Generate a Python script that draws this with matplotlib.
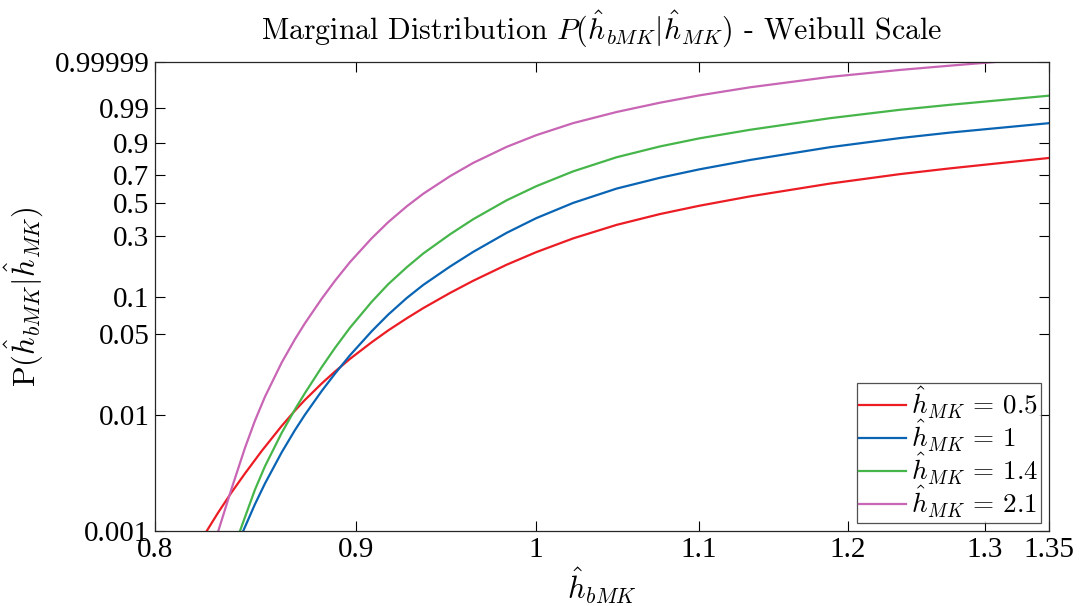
#!/usr/bin/env python3
# Marginal distribution on a Weibull probability scale (log x, log(-log(1-p)) y).

import numpy as np
import matplotlib as mpl
mpl.use('agg')
import matplotlib.pyplot as plt
from matplotlib.ticker import FixedLocator, FixedFormatter, NullLocator

plt.rcParams['font.family'] = ['Liberation Serif', 'DejaVu Serif']
plt.rcParams['mathtext.fontset'] = 'cm'

# Values.

x_red = [0.8246, 0.8302, 0.8366, 0.8433, 0.8516, 0.8616, 0.8683, 0.8734, 0.8820,
         0.8889, 0.8967, 0.9082, 0.9170, 0.9270, 0.9360, 0.9508, 0.9638, 0.9828,
         1.0, 1.0219, 1.0482, 1.0751, 1.1001, 1.1333, 1.1876, 1.2372, 1.2740,
         1.3507]
p_red = [0.001, 0.001449, 0.002149, 0.003150, 0.004928, 0.008098, 0.010969,
         0.013559, 0.018752, 0.02376, 0.030437, 0.042203, 0.053091, 0.067076,
         0.081565, 0.108810, 0.136623, 0.182966, 0.228806, 0.289656, 0.360892,
         0.426021, 0.480575, 0.546165, 0.639272, 0.707992, 0.748535, 0.817661]

x_blue = [0.8424, 0.8482, 0.8532, 0.8616, 0.8683, 0.8734, 0.8820, 0.8889, 0.8967,
          0.9082, 0.9170, 0.9270, 0.9360, 0.9508, 0.9638, 0.9828, 1.0, 1.0219,
          1.0482, 1.0751, 1.1001, 1.1333, 1.1876, 1.2372, 1.2740, 1.3507]
p_blue = [0.001, 0.001703, 0.002576, 0.004792, 0.007450, 0.010113, 0.01617,
          0.022796, 0.032664, 0.052273, 0.072021, 0.09884, 0.126375, 0.177138,
          0.229965, 0.317273, 0.400462, 0.500440, 0.602639, 0.681649, 0.7416,
          0.804475, 0.878302, 0.919961, 0.94026, 0.9668]

x_green = [0.8408, 0.8482, 0.8532, 0.8616, 0.8683, 0.8734, 0.8820, 0.8889, 0.8967,
           0.9082, 0.9170, 0.9270, 0.9360, 0.9508, 0.9638, 0.9828, 1.0, 1.0219,
           1.0482, 1.0751, 1.1001, 1.1333, 1.1876, 1.2372, 1.2740, 1.3507]
p_green = [0.001, 0.002275, 0.003631, 0.007054, 0.011222, 0.015527, 0.025882,
           0.037793, 0.055889, 0.092054, 0.128153, 0.174757, 0.223439, 0.309814,
           0.394078, 0.518191, 0.619845, 0.727912, 0.821662, 0.882103, 0.918747,
           0.949188, 0.976598, 0.988196, 0.992586, 0.997236]

x_mag = [0.8302, 0.8364, 0.8433, 0.8482, 0.8532, 0.8616, 0.8683, 0.8734, 0.8820,
         0.8889, 0.8967, 0.9082, 0.9170, 0.9270, 0.9360, 0.9508, 0.9638, 0.9828,
         1.0, 1.0219, 1.0482, 1.0751, 1.1001, 1.1333, 1.1876, 1.2372, 1.2740,
         1.3080]
p_mag = [0.001, 0.002245, 0.005251, 0.008978, 0.014446, 0.028360, 0.044744,
         0.061028, 0.097526, 0.136623, 0.191706, 0.290161, 0.376492, 0.476519,
         0.564840, 0.693240, 0.785710, 0.879829, 0.931132, 0.9668, 0.985729,
         0.993986, 0.997301, 0.999042, 0.999807, 0.999946, 0.9999775, 0.99999]

labels = [r'$\hat{h}_{MK}\,=\,0.5$', r'$\hat{h}_{MK}\,=\,1$',
          r'$\hat{h}_{MK}\,=\,1.4$', r'$\hat{h}_{MK}\,=\,2.1$']

xticks = [0.8, 0.9, 1.0, 1.1, 1.2, 1.3, 1.35]
xticklabels = ['0.8', '0.9', '1', '1.1', '1.2', '1.3', '1.35']
yticks = [0.001, 0.01, 0.05, 0.1, 0.3, 0.5, 0.7, 0.9, 0.99, 0.99999]
yticklabels = ['0.001', '0.01', '0.05', '0.1', '0.3', '0.5', '0.7', '0.9',
               '0.99', '0.99999']


def wbl_fwd(p):
    p = np.clip(np.asarray(p, dtype=float), 1e-12, 1 - 1e-12)
    return np.log(-np.log(1 - p))


def wbl_inv(t):
    return 1 - np.exp(-np.exp(np.asarray(t, dtype=float)))


fig = plt.figure(figsize=(10.83, 6.06), dpi=100)
ax = fig.add_axes([0.1431, 0.1238, 0.8255, 0.7739])

ax.plot(x_red, p_red, color='#ec1c24', lw=1.6, label=labels[0])
ax.plot(x_blue, p_blue, color='#0a64b4', lw=1.6, label=labels[1])
ax.plot(x_green, p_green, color='#46b64a', lw=1.6, label=labels[2])
ax.plot(x_mag, p_mag, color='#c865b4', lw=1.6, label=labels[3])

ax.set_xscale('log')
ax.set_yscale('function', functions=(wbl_fwd, wbl_inv))
ax.set_xlim(0.8, 1.35)
ax.set_ylim(0.001, 0.99999)

ax.xaxis.set_major_locator(FixedLocator(xticks))
ax.xaxis.set_major_formatter(FixedFormatter(xticklabels))
ax.xaxis.set_minor_locator(NullLocator())
ax.yaxis.set_major_locator(FixedLocator(yticks))
ax.yaxis.set_major_formatter(FixedFormatter(yticklabels))
ax.yaxis.set_minor_locator(NullLocator())

ax.tick_params(direction='in', length=7, width=0.8, top=True, right=True,
               labelsize=21, pad=4)
for s in ax.spines.values():
    s.set_linewidth(0.9)
    s.set_color('#262626')

ax.set_title(r'Marginal Distribution $P(\hat{h}_{bMK}|\hat{h}_{MK})$ - Weibull Scale',
             fontsize=21.5, pad=17, family='cmr10')
ax.set_xlabel(r'$\hat{h}_{bMK}$', fontsize=22, labelpad=2)
ax.set_ylabel(r'$\mathrm{P}(\hat{h}_{bMK}|\hat{h}_{MK})$', fontsize=22, labelpad=6)

leg = ax.legend(loc='lower right', fontsize=19.5, frameon=True, fancybox=False,
                handlelength=1.7, handletextpad=0.2, borderpad=0.1,
                labelspacing=-0.12, borderaxespad=0.3)
leg.get_frame().set_edgecolor('#262626')
leg.get_frame().set_linewidth(0.9)

fig.savefig('out.png', dpi=100)
